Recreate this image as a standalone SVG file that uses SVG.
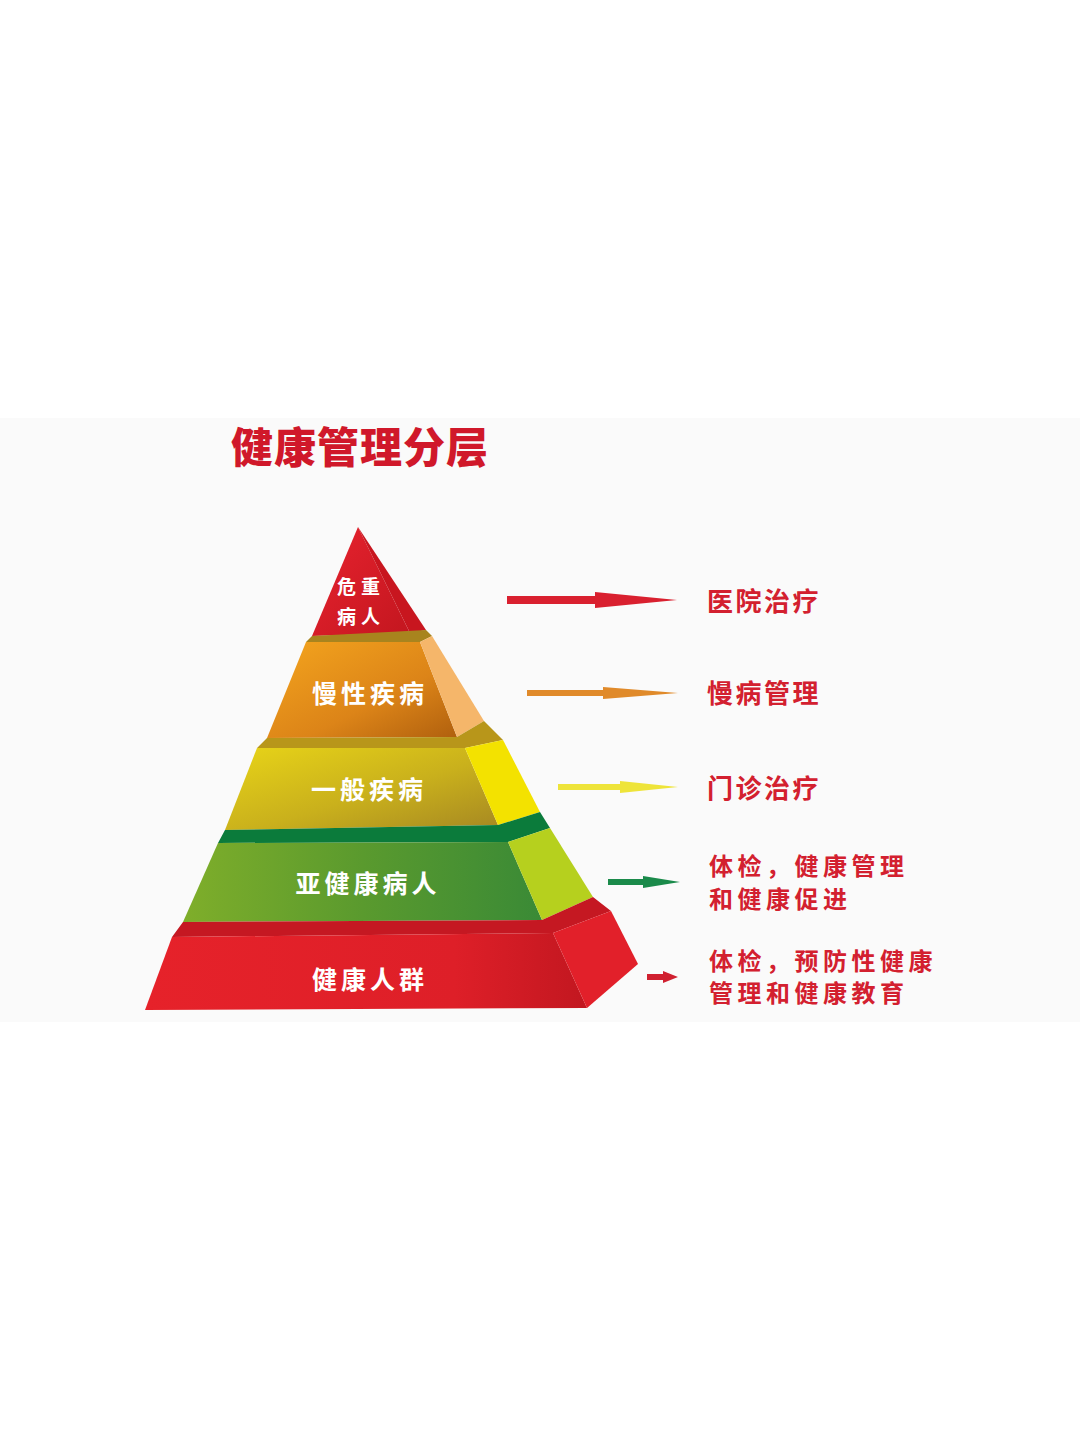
<svg xmlns="http://www.w3.org/2000/svg" width="1080" height="1440" viewBox="0 0 1080 1440">
<style>
.lbl{font-family:"Noto Sans CJK SC","Noto Sans",sans-serif;font-weight:700;fill:#ffffff;font-size:25px;letter-spacing:4px;text-anchor:middle}
.sm{font-size:19px;letter-spacing:5px}
.rt{font-family:"Noto Sans CJK SC","Noto Sans",sans-serif;font-weight:700;fill:#d3202f;font-size:26px;letter-spacing:2.5px}
.rt2{font-size:24px;letter-spacing:4.5px}
.title{font-family:"Noto Sans CJK SC","Noto Sans",sans-serif;font-weight:900;fill:#d0182a;font-size:42px;letter-spacing:1px}
</style>
<defs>
<linearGradient id="gTop" x1="0" y1="0" x2="1" y2="1"><stop offset="0" stop-color="#e8232f"/><stop offset="1" stop-color="#c3161f"/></linearGradient>
<linearGradient id="gOr" x1="0" y1="0" x2="1" y2="1"><stop offset="0" stop-color="#f4a51e"/><stop offset="0.6" stop-color="#dc8418"/><stop offset="1" stop-color="#b0600e"/></linearGradient>
<linearGradient id="gYe" x1="0" y1="0" x2="1" y2="1"><stop offset="0" stop-color="#e8d418"/><stop offset="0.55" stop-color="#c9b01c"/><stop offset="1" stop-color="#a68822"/></linearGradient>
<linearGradient id="gGr" x1="0" y1="0" x2="1" y2="0"><stop offset="0" stop-color="#7fae2a"/><stop offset="0.5" stop-color="#5a9a2e"/><stop offset="1" stop-color="#3a8a36"/></linearGradient>
<linearGradient id="gRe" x1="0" y1="0" x2="1" y2="0"><stop offset="0" stop-color="#e6222a"/><stop offset="0.7" stop-color="#de1f28"/><stop offset="1" stop-color="#c21720"/></linearGradient>
</defs>
<rect x="0" y="0" width="1080" height="1440" fill="#ffffff"/>
<rect x="0" y="418" width="1080" height="604" fill="#fafafa"/>
<text class="title" x="231" y="463">健康管理分层</text>

<g id="tier1">
<polygon points="358,527 312,636 410,633" fill="url(#gTop)"/>
<polygon points="358,527 410,633 426,630" fill="#c8161f"/>
<polygon points="312,636 426,630 432,636 420,642 306,642" fill="#a8841e"/>
<text class="lbl sm" x="361" y="594">危重</text>
<text class="lbl sm" x="361" y="624">病人</text>
</g>
<g id="tier2">
<polygon points="306,642 420,642 457,737 267,738" fill="url(#gOr)"/>
<polygon points="420,642 432,636 484,721 457,737" fill="#f5b66a"/>
<polygon points="267,738 457,737 484,721 503,740 465,748 257,748" fill="#b8961a"/>
<text class="lbl" x="370" y="703">慢性疾病</text>
</g>
<g id="tier3">
<polygon points="257,748 465,748 498,825 225,830" fill="url(#gYe)"/>
<polygon points="465,748 503,740 540,812 498,825" fill="#f3e200"/>
<polygon points="225,830 498,825 540,812 550,828 508,842 218,843" fill="#0b7b3b"/>
<text class="lbl" x="369" y="799">一般疾病</text>
</g>
<g id="tier4">
<polygon points="218,843 508,842 542,920 183,922" fill="url(#gGr)"/>
<polygon points="508,842 550,828 593,897 542,920" fill="#b6d01e"/>
<polygon points="183,922 542,920 593,897 611,911 553,933 172,937" fill="#c51822"/>
<text class="lbl" x="368" y="893">亚健康病人</text>
</g>
<g id="tier5">
<polygon points="172,937 553,933 587,1008 145,1010" fill="url(#gRe)"/>
<polygon points="553,933 611,911 638,964 587,1008" fill="#e2202a"/>
<text class="lbl" x="370" y="989">健康人群</text>
</g>

<g id="connectors">
<polygon points="507,596 595,596 595,592 677,600 595,608 595,604 507,604" fill="#d9202f"/>
<polygon points="527,690 603,690 603,687 678,693 603,699 603,696 527,696" fill="#e08a2a"/>
<polygon points="558,784 620,784 620,781 678,787 620,793 620,790 558,790" fill="#eee43a"/>
<polygon points="608,879 643,879 643,876 680,882 643,888 643,885 608,885" fill="#1a8a4a"/>
<polygon points="647,974 663,974 663,971 678,977 663,983 663,980 647,980" fill="#d02030"/>
</g>

<g id="labels-right">
<text class="rt" x="707" y="611">医院治疗</text>
<text class="rt" x="707" y="703">慢病管理</text>
<text class="rt" x="707" y="798">门诊治疗</text>
<text class="rt rt2" x="709" y="875">体检，健康管理</text>
<text class="rt rt2" x="709" y="908">和健康促进</text>
<text class="rt rt2" x="709" y="970">体检，预防性健康</text>
<text class="rt rt2" x="709" y="1002">管理和健康教育</text>
</g>
</svg>
